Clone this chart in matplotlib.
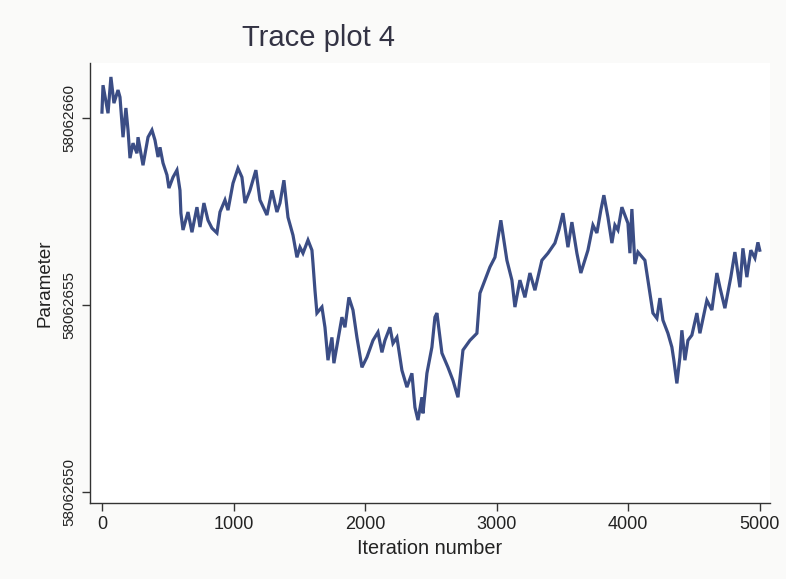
import matplotlib.pyplot as plt

iteracion = [0, 8, 46, 68, 91, 122, 137, 160, 182, 198, 213, 236, 266, 274, 312, 350,
             380, 403, 426, 441, 464, 494, 509, 540, 570, 593, 600, 616, 654, 684, 722,
             745, 775, 806, 836, 874, 897, 935, 958, 996, 1034, 1064, 1087, 1125, 1170,
             1201, 1254, 1292, 1330, 1353, 1383, 1414, 1452, 1482, 1505, 1528, 1566,
             1596, 1604, 1619, 1634, 1672, 1695, 1718, 1748, 1763, 1824, 1847, 1877,
             1908, 1938, 1976, 2014, 2060, 2098, 2128, 2151, 2189, 2212, 2242, 2280,
             2318, 2356, 2379, 2402, 2432, 2440, 2470, 2508, 2531, 2546, 2584, 2630,
             2668, 2706, 2744, 2797, 2850, 2873, 2911, 2949, 2987, 3032, 3078, 3116,
             3139, 3177, 3215, 3253, 3291, 3344, 3390, 3443, 3473, 3504, 3542, 3572,
             3610, 3640, 3694, 3732, 3762, 3792, 3815, 3846, 3876, 3899, 3922, 3952,
             3998, 4013, 4028, 4051, 4074, 4127, 4150, 4188, 4218, 4241, 4264, 4302,
             4332, 4347, 4370, 4393, 4408, 4431, 4454, 4484, 4522, 4545, 4598, 4636,
             4674, 4697, 4735, 4780, 4811, 4849, 4872, 4902, 4932, 4963, 4986, 5000]

parametro = [58062660.16, 58062660.88, 58062660.13, 58062661.10, 58062660.40,
             58062660.75, 58062660.56, 58062659.49, 58062660.27, 58062659.68,
             58062658.93, 58062659.33, 58062659.06, 58062659.49, 58062658.74,
             58062659.49, 58062659.68, 58062659.41, 58062658.96, 58062659.22,
             58062658.80, 58062658.48, 58062658.13, 58062658.42, 58062658.61,
             58062658.07, 58062657.46, 58062657.01, 58062657.49, 58062656.95,
             58062657.62, 58062657.09, 58062657.73, 58062657.27, 58062657.06,
             58062656.93, 58062657.49, 58062657.81, 58062657.54, 58062658.26,
             58062658.66, 58062658.42, 58062657.73, 58062658.07, 58062658.61,
             58062657.81, 58062657.41, 58062658.07, 58062657.49, 58062657.73,
             58062658.34, 58062657.35, 58062656.87, 58062656.28, 58062656.55,
             58062656.39, 58062656.74, 58062656.47, 58062656.12, 58062655.40,
             58062654.79, 58062654.95, 58062654.41, 58062653.53, 58062654.14,
             58062653.45, 58062654.68, 58062654.41, 58062655.21, 58062654.87,
             58062654.14, 58062653.34, 58062653.61, 58062654.06, 58062654.28,
             58062653.74, 58062654.06, 58062654.41, 58062653.98, 58062654.14,
             58062653.26, 58062652.81, 58062653.18, 58062652.27, 58062651.93,
             58062652.54, 58062652.11, 58062653.18, 58062653.88, 58062654.68,
             58062654.79, 58062653.72, 58062653.34, 58062652.99, 58062652.54,
             58062653.80, 58062654.06, 58062654.25, 58062655.32, 58062655.67,
             58062656.02, 58062656.28, 58062657.27, 58062656.20, 58062655.67,
             58062654.95, 58062655.67, 58062655.21, 58062655.86, 58062655.40,
             58062656.20, 58062656.39, 58062656.66, 58062657.01, 58062657.46,
             58062656.55, 58062657.22, 58062656.39, 58062655.86, 58062656.47,
             58062657.14, 58062656.93, 58062657.54, 58062657.94, 58062657.35,
             58062656.66, 58062657.14, 58062657.01, 58062657.62, 58062657.19,
             58062656.39, 58062657.57, 58062656.10, 58062656.42, 58062656.20,
             58062655.67, 58062654.79, 58062654.65, 58062655.19, 58062654.60,
             58062654.25, 58062653.88, 58062653.53, 58062652.91, 58062653.61,
             58062654.33, 58062653.53, 58062654.06, 58062654.20, 58062654.79,
             58062654.25, 58062655.13, 58062654.87, 58062655.86, 58062655.48,
             58062654.92, 58062655.75, 58062656.42, 58062655.48, 58062656.52,
             58062655.75, 58062656.47, 58062656.26, 58062656.68, 58062656.47]

ticks_x = [0, 1000, 2000, 3000, 4000, 5000]
ticks_y = [58062650, 58062655, 58062660]

plt.rcParams['font.family'] = ['Liberation Sans', 'DejaVu Sans']

fig = plt.figure(figsize=(7.86, 5.79), dpi=100, facecolor='#fafaf9')
ax = fig.add_axes([0.1145, 0.131, 0.865, 0.76])
ax.set_facecolor('white')

ax.plot(iteracion, parametro, color='#3b4d85', linewidth=2.3, solid_joinstyle='miter')

ax.set_xlim(-91, 5077)
ax.set_ylim(58062649.71, 58062661.47)

ax.set_xticks(ticks_x)
ax.set_xticklabels([str(t) for t in ticks_x], fontsize=13)
ax.set_yticks(ticks_y)
ax.set_yticklabels([str(t) for t in ticks_y], fontsize=11, rotation=90, va='center')

ax.tick_params(direction='out', length=6, width=1, color='#333333', labelcolor='#222222')
for lado in ['top', 'right']:
    ax.spines[lado].set_visible(False)
for lado in ['left', 'bottom']:
    ax.spines[lado].set_color('#333333')
    ax.spines[lado].set_linewidth(1)

ax.set_xlabel('Iteration number', fontsize=14.3, color='#222222', labelpad=4)
ax.set_ylabel('Parameter', fontsize=13.5, color='#222222', labelpad=7)

# titulo desplazado a la izquierda, como en la figura de Stata
fig.text(0.405, 0.935, 'Trace plot 4', fontsize=21, color='#333344', ha='center', va='center')

fig.savefig('out.png', dpi=100, facecolor=fig.get_facecolor())
